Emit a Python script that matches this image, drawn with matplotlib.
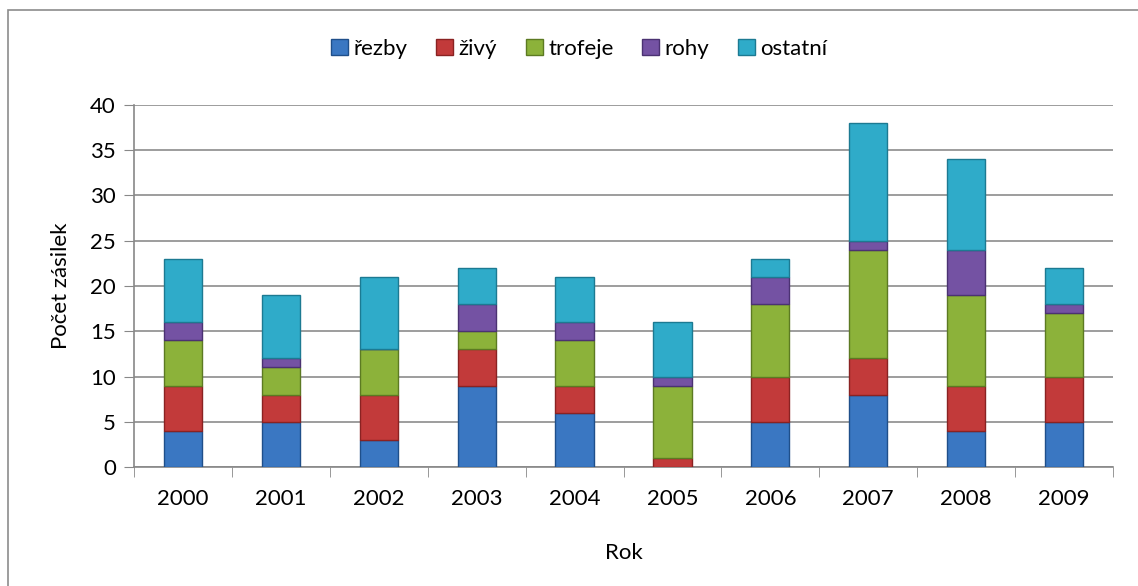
import numpy as np
import matplotlib.pyplot as plt
from matplotlib.patches import Rectangle

plt.rcParams['font.family'] = ['Lato', 'DejaVu Sans']

# data
years = ['2000', '2001', '2002', '2003', '2004', '2005', '2006', '2007', '2008', '2009']
rezby = [4, 5, 3, 9, 6, 0, 5, 8, 4, 5]
zivy = [5, 3, 5, 4, 3, 1, 5, 4, 5, 5]
trofeje = [5, 3, 5, 2, 5, 8, 8, 12, 10, 7]
rohy = [2, 1, 0, 3, 2, 1, 3, 1, 5, 1]
ostatni = [7, 7, 8, 4, 5, 6, 2, 13, 10, 4]

labels = ['řezby', 'živý', 'trofeje', 'rohy', 'ostatní']
colors = ['#3a77c2', '#c23a3a', '#8cb23a', '#7452a3', '#2fabc9']
edges = ['#1f4f8a', '#8a2222', '#5c7a22', '#4b3272', '#1c7a92']

fig = plt.figure(figsize=(11.38, 5.86), dpi=100)
ax = fig.add_axes([0.1178, 0.203, 0.8602, 0.618])

x = np.arange(len(years))
bottom = np.zeros(len(years))
series = [rezby, zivy, trofeje, rohy, ostatni]
for vals, lab, c, ec in zip(series, labels, colors, edges):
    ax.bar(x, vals, width=0.39, bottom=bottom, color=c, edgecolor=ec,
           linewidth=1.0, label=lab, zorder=3)
    bottom += np.array(vals)

ax.set_xlim(-0.5, len(years) - 0.5)
ax.set_ylim(0, 40)
ax.set_yticks(range(0, 41, 5))
ax.set_xticks(x)
ax.set_xticklabels(years)
ax.set_xticks(np.arange(-0.5, len(years), 1), minor=True)
ax.tick_params(axis='x', which='major', length=0, pad=16, labelsize=16)
ax.tick_params(axis='x', which='minor', length=7, color='#888888')
ax.tick_params(axis='y', length=7, color='#888888', pad=6, labelsize=16)
ax.grid(axis='y', color='#8c8c8c', linewidth=1.2, zorder=0)

for s in ['top', 'right']:
    ax.spines[s].set_visible(False)
for s in ['left', 'bottom']:
    ax.spines[s].set_color('#888888')
    ax.spines[s].set_linewidth(1.2)

ax.set_xlabel('Rok', fontsize=16, labelpad=24)
ax.set_ylabel('Počet zásilek', fontsize=16, labelpad=14)

ax.legend(loc='center', bbox_to_anchor=(0.455, 1.155), ncol=5, frameon=False,
          fontsize=16, handlelength=0.75, handleheight=0.75, handletextpad=0.25,
          columnspacing=1.3)

# chart area border
fig.patches.append(Rectangle((8 / 1138, -0.05), 1.2, 1 - 10 / 586 + 0.05,
                             transform=fig.transFigure, fill=False,
                             edgecolor='#8c8c8c', linewidth=1.2))

fig.savefig('out.png', dpi=100)
